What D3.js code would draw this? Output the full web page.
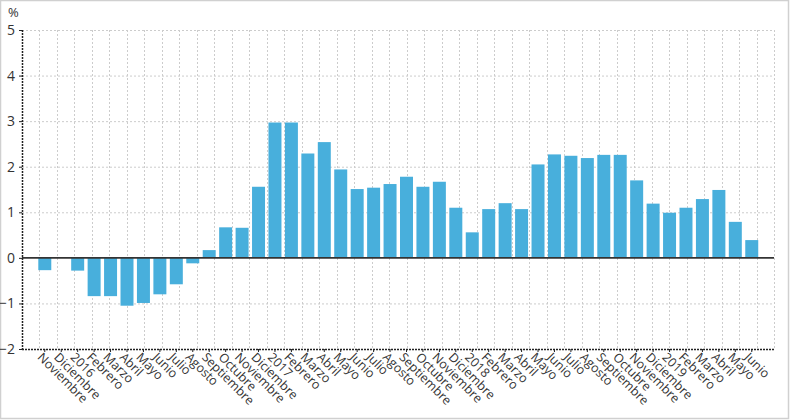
<!DOCTYPE html>
<html><head><meta charset="utf-8">
<script src="https://cdn.jsdelivr.net/npm/d3@7"></script>
<style>
html,body{margin:0;padding:0;background:#fff;}
svg{display:block;font-family:"Open Sans",sans-serif;}
</style></head>
<body>
<svg id="c" width="790" height="420"></svg>
<script>
const categories = ["Noviembre","Diciembre","2016","Febrero","Marzo","Abril","Mayo","Junio","Julio","Agosto","Septiembre","Octubre","Noviembre","Diciembre","2017","Febrero","Marzo","Abril","Mayo","Junio","Julio","Agosto","Septiembre","Octubre","Noviembre","Diciembre","2018","Febrero","Marzo","Abril","Mayo","Junio","Julio","Agosto","Septiembre","Octubre","Noviembre","Diciembre","2019","Febrero","Marzo","Abril","Mayo","Junio"];
const values = [-0.27,0.0,-0.28,-0.84,-0.84,-1.05,-0.99,-0.80,-0.58,-0.12,0.17,0.67,0.66,1.56,2.97,2.97,2.29,2.54,1.94,1.51,1.54,1.62,1.78,1.56,1.67,1.10,0.56,1.07,1.20,1.07,2.05,2.27,2.24,2.19,2.26,2.26,1.70,1.19,0.99,1.10,1.29,1.49,0.79,0.39];
const yTicks = [-2,-1,0,1,2,3,4,5];
const unitLabel = "%";

const svg = d3.select("#c");
const L = 22, R = 774, T = 30, B = 349;
const keys = categories.map((c,i)=>i);

svg.append("rect").attr("x",0.5).attr("y",0.5).attr("width",788).attr("height",418)
  .attr("fill","#fff").attr("stroke","#d0d0d0").attr("stroke-width",1.5);

const y = d3.scaleLinear().domain([-2,5]).range([B,T]);
const x = d3.scaleBand().domain(keys).range([34.85,761.7]).paddingInner(0.21).paddingOuter(0.21);
const gx = d3.scaleLinear().domain([0,43]).range([L,R]);

// grid
const g = svg.append("g");
g.selectAll("line.h").data(yTicks.filter(d=>d!==0 && d!==-2)).join("line")
  .attr("x1",L).attr("x2",R).attr("y1",d=>y(d)+0.5).attr("y2",d=>y(d)+0.5)
  .attr("stroke","#cccccc").attr("stroke-dasharray","2,2");
g.selectAll("line.v").data(d3.range(1,44)).join("line")
  .attr("x1",d=>Math.round(gx(d))+0.5).attr("x2",d=>Math.round(gx(d))+0.5).attr("y1",T).attr("y2",B)
  .attr("stroke","#cccccc").attr("stroke-dasharray","2,2");

// bars
svg.append("g").selectAll("rect").data(values).join("rect")
  .attr("x",(d,i)=>x(i)).attr("width",x.bandwidth())
  .attr("y",d=>y(Math.max(0,d))).attr("height",d=>Math.abs(y(d)-y(0)))
  .attr("fill","#48afdc");

// zero line
svg.append("line").attr("x1",L).attr("x2",R).attr("y1",y(0)).attr("y2",y(0))
  .attr("stroke","#333").attr("stroke-width",1.6);

// y axis
const ya = svg.append("g").attr("transform",`translate(${L},0)`)
  .call(d3.axisLeft(y).tickValues(yTicks).tickSize(3).tickFormat(d3.format("d")));
ya.select(".domain").attr("stroke","#222").attr("stroke-dasharray","2,1").attr("stroke-width",1.5).attr("d",`M0.5,${T}V${B}`);
ya.selectAll(".tick line").attr("stroke","#222");
ya.selectAll(".tick text").attr("font-size",14).attr("fill","#333").attr("font-family","Open Sans").attr("x",-7);

// x axis
const xa = svg.append("g").attr("transform",`translate(0,${B})`)
  .call(d3.axisBottom(x).tickSize(3).tickFormat(i=>categories[i]));
xa.select(".domain").attr("stroke","#222").attr("stroke-dasharray","2,1").attr("stroke-width",1.5).attr("d",`M${L},0.5H${R}`);
xa.selectAll(".tick line").attr("stroke","#222");
xa.selectAll(".tick text").attr("font-size",12.5).attr("fill","#333").attr("font-family","Open Sans")
  .attr("text-anchor","start").attr("dy",0).attr("y",0)
  .attr("transform","translate(-8,9) rotate(45)");

svg.append("text").attr("x",8).attr("y",17).attr("font-size",13).attr("fill","#333").text(unitLabel);
</script>
</body></html>
